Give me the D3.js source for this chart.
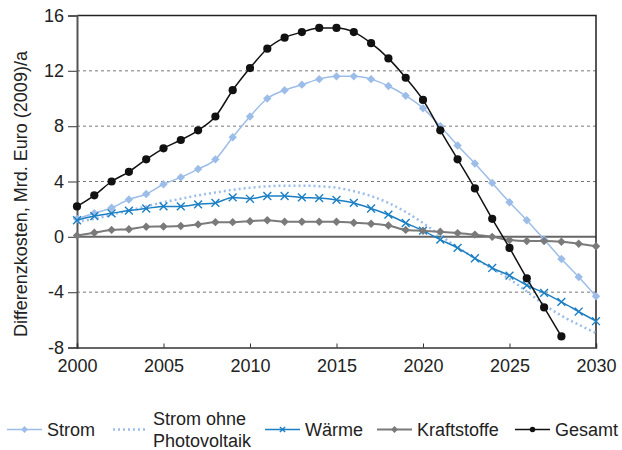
<!DOCTYPE html>
<html>
<head>
<meta charset="utf-8">
<script src="https://cdn.jsdelivr.net/npm/d3@7"></script>
<style>
  body { margin: 0; background: #fff; }
  svg { font-family: "Liberation Sans", Arial, sans-serif; }
</style>
</head>
<body>
<svg id="chart" width="622" height="450"></svg>
<script>
// Jahre und Werte (Mrd. Euro (2009)/a)
var years = d3.range(2000, 2031);
var strom = [1.3, 1.7, 2.1, 2.7, 3.1, 3.8, 4.3, 4.9, 5.6, 7.2, 8.7, 10.0, 10.6, 11.0, 11.4, 11.6,
    11.6, 11.4, 10.9, 10.2, 9.3, 8.0, 6.6, 5.3, 3.9, 2.5, 1.2, -0.2, -1.6, -2.9, -4.3];
var stromOhnePV = [1.1, 1.3, 1.6, 1.9, 2.2, 2.5, 2.75, 3.0, 3.2, 3.4, 3.55, 3.65, 3.7, 3.7, 3.65, 3.55,
    3.3, 2.95, 2.45, 1.8, 1.0, 0.1, -0.75, -1.55, -2.3, -3.05, -3.95, -4.9, -5.7, -6.35, -6.95];
var waerme = [1.2, 1.5, 1.7, 1.9, 2.05, 2.2, 2.2, 2.35, 2.45, 2.85, 2.75, 2.95, 2.95, 2.85, 2.8, 2.67,
    2.45, 2.05, 1.6, 1.0, 0.45, -0.2, -0.8, -1.55, -2.25, -2.8, -3.5, -4.05, -4.7, -5.4, -6.1];
var kraftstoffe = [0.1, 0.3, 0.5, 0.55, 0.73, 0.75, 0.78, 0.9, 1.06, 1.06, 1.13, 1.2, 1.09, 1.09, 1.09, 1.09,
    1.02, 0.95, 0.82, 0.5, 0.44, 0.37, 0.27, 0.16, 0.0, -0.23, -0.3, -0.3, -0.35, -0.5, -0.68];
var gesamt = [2.2, 3.0, 4.0, 4.7, 5.6, 6.4, 7.0, 7.7, 8.7, 10.6, 12.2, 13.6, 14.4, 14.8, 15.1, 15.1,
    14.8, 14.0, 12.9, 11.5, 9.9, 7.7, 5.6, 3.5, 1.3, -0.8, -3.0, -5.1, -7.2];
var yTicks = [-8, -4, 0, 4, 8, 12, 16];
var xTicks = [2000, 2005, 2010, 2015, 2020, 2025, 2030];

var series = [
    {name: "Strom", values: strom, color: "#9dbde9", width: 1.5, dash: null, marker: "diamond", legendX: 7},
    {name: "Strom ohne\nPhotovoltaik", values: stromOhnePV, color: "#9dbde9", width: 2.5, dash: "2,3", marker: null, legendX: 113},
    {name: "Wärme", values: waerme, color: "#1b7fc3", width: 1.5, dash: null, marker: "cross", legendX: 265},
    {name: "Kraftstoffe", values: kraftstoffe, color: "#7a7a7a", width: 2, dash: null, marker: "diamond", legendX: 377},
    {name: "Gesamt", values: gesamt, color: "#111", width: 1.5, dash: null, marker: "circle", legendX: 515}
];

var svg = d3.select("#chart");
var mLeft = 77, mRight = 596, mTop = 15.5, mBottom = 347.5;

var x = d3.scaleLinear().domain([2000, 2030]).range([mLeft, mRight]);
var y = d3.scaleLinear().domain([-8, 16]).range([mBottom, mTop]);

// Gitterlinien gestrichelt
svg.append("g").selectAll("line")
    .data(yTicks.filter(d => d !== 0 && d !== -8 && d !== 16))
    .enter().append("line")
    .attr("x1", mLeft).attr("x2", mRight)
    .attr("y1", d => y(d)).attr("y2", d => y(d))
    .attr("stroke", "#777").attr("stroke-width", 1)
    .attr("stroke-dasharray", "3,3");

// Nulllinie
svg.append("line")
    .attr("x1", mLeft).attr("x2", mRight)
    .attr("y1", y(0)).attr("y2", y(0))
    .attr("stroke", "#666").attr("stroke-width", 2);

// Rahmen oben und rechts
svg.append("path")
    .attr("d", "M" + mLeft + "," + mTop + "H" + mRight + "V" + mBottom)
    .attr("fill", "none").attr("stroke", "#222").attr("stroke-width", 1.5);

// y-Achse
var yAxis = d3.axisLeft(y).tickValues(yTicks).tickSize(9).tickPadding(4)
    .tickFormat(d => d < 0 ? "-" + Math.abs(d) : d);
var gy = svg.append("g").attr("transform", "translate(" + mLeft + ",0)").call(yAxis);
gy.select(".domain").attr("stroke", "#555").attr("stroke-width", 2);
gy.selectAll(".tick line").attr("stroke", "#555").attr("stroke-width", 1.2);
gy.selectAll("text").attr("font-size", 18).attr("fill", "#222");

// x-Achse
var xAxis = d3.axisBottom(x).tickValues(xTicks).tickSize(-4).tickPadding(12)
    .tickFormat(d3.format("d"));
var gx = svg.append("g").attr("transform", "translate(0," + mBottom + ")").call(xAxis);
gx.select(".domain").attr("stroke", "#333").attr("stroke-width", 1.5);
gx.selectAll(".tick line").attr("stroke", "#333");
gx.selectAll("text").attr("font-size", 18).attr("fill", "#222");

// Achsentitel
svg.append("text")
    .attr("transform", "translate(27,194) rotate(-90)")
    .attr("text-anchor", "middle")
    .attr("font-size", 18).attr("fill", "#222")
    .text("Differenzkosten, Mrd. Euro (2009)/a");

var line = d3.line()
    .x((d, i) => x(years[i]))
    .y(d => y(d))
    .curve(d3.curveMonotoneX);

function drawMarker(g, type, color, size) {
    if (type === "diamond") {
        g.append("path")
            .attr("d", d3.symbol().type(d3.symbolDiamond2).size(size * 5)())
            .attr("fill", color);
    } else if (type === "circle") {
        g.append("circle").attr("r", size / 2.2).attr("fill", color);
    } else if (type === "cross") {
        var s = size / 2.3;
        g.append("path")
            .attr("d", "M" + (-s) + "," + (-s) + "L" + s + "," + s + "M" + (-s) + "," + s + "L" + s + "," + (-s))
            .attr("stroke", color).attr("stroke-width", 1.4).attr("fill", "none");
    }
}

var lines = svg.append("g");
series.forEach(function (s) {
    var g = lines.append("g");
    g.append("path")
        .attr("d", line(s.values))
        .attr("fill", "none")
        .attr("stroke", s.color)
        .attr("stroke-width", s.width)
        .attr("stroke-dasharray", s.dash);
    if (s.marker) {
        g.selectAll("g.pt")
            .data(s.values)
            .enter().append("g")
            .attr("class", "pt")
            .attr("transform", (d, i) => "translate(" + x(years[i]) + "," + y(d) + ")")
            .each(function () { drawMarker(d3.select(this), s.marker, s.color, 9); });
    }
});

// Legende
var legY = 429.5;
var leg = svg.append("g");
series.forEach(function (s) {
    var g = leg.append("g").attr("transform", "translate(" + s.legendX + "," + legY + ")");
    g.append("line")
        .attr("x1", 0).attr("x2", 35)
        .attr("stroke", s.color)
        .attr("stroke-width", s.dash ? 2.5 : s.width)
        .attr("stroke-dasharray", s.dash);
    if (s.marker) {
        var m = g.append("g").attr("transform", "translate(17.5,0)");
        drawMarker(m, s.marker, s.color, 6);
    }
    var parts = s.name.split("\n");
    var t = g.append("text")
        .attr("font-size", 18).attr("fill", "#222");
    parts.forEach(function (p, i) {
        t.append("tspan")
            .attr("x", 40)
            .attr("y", parts.length > 1 ? (i === 0 ? -4.5 : 17) : 6)
            .text(p);
    });
});
</script>
</body>
</html>
